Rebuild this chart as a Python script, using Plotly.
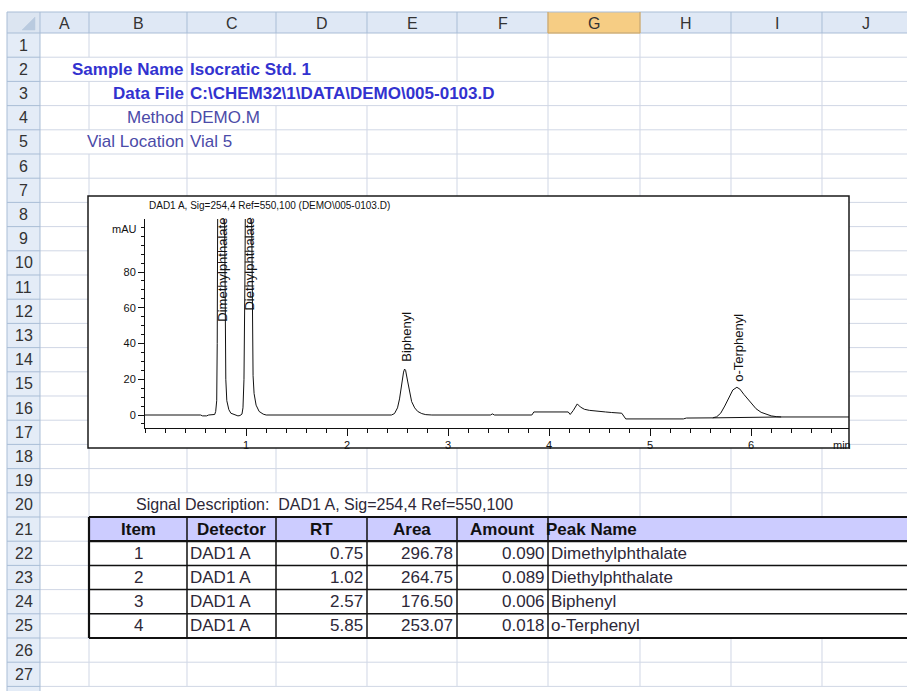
import plotly.graph_objects as go

W, H = 907, 691

# ---------------- data ----------------
col_letters = ["A", "B", "C", "D", "E", "F", "G", "H", "I", "J"]
row_numbers = list(range(1, 28))
info_labels = ["Sample Name", "Data File", "Method", "Vial Location"]
info_values = ["Isocratic Std. 1", r"C:\CHEM32\1\DATA\DEMO\005-0103.D", "DEMO.M", "Vial 5"]
signal_description = "Signal Description:  DAD1 A, Sig=254,4 Ref=550,100"
chart_title = r"DAD1 A, Sig=254,4 Ref=550,100 (DEMO\005-0103.D)"
table_headers = ["Item", "Detector", "RT", "Area", "Amount", "Peak Name"]
item = [1, 2, 3, 4]
detector = ["DAD1 A", "DAD1 A", "DAD1 A", "DAD1 A"]
rt = [0.75, 1.02, 2.57, 5.85]
area = [296.78, 264.75, 176.50, 253.07]
amount = [0.090, 0.089, 0.006, 0.018]
peak_name = ["Dimethylphthalate", "Diethylphthalate", "Biphenyl", "o-Terphenyl"]
label_base_mau = [51.5, 57.6, 29.0, 17.9]

time_min = [
    0.00, 0.55, 0.57, 0.61, 0.63, 0.69, 0.70, 0.71, 0.715, 0.72, 0.75, 0.78, 0.79, 0.80, 0.81, 0.83, 0.85, 0.88,
    0.90, 0.92, 0.94, 0.96, 0.97, 0.98, 0.99, 1.00, 1.02, 1.05, 1.06, 1.07, 1.08, 1.10, 1.13, 1.17, 1.20,
    2.44, 2.47, 2.50, 2.52, 2.54, 2.56, 2.57, 2.58, 2.60, 2.62, 2.64, 2.67, 2.70, 2.74, 2.78, 2.84,
    3.42, 3.44, 3.46, 3.83, 3.85, 4.19, 4.21, 4.24, 4.28, 4.31, 4.35, 4.40, 4.45, 4.50, 4.56, 4.62, 4.69, 4.72, 4.76,
    5.33, 5.36, 5.62, 5.66, 5.70, 5.74, 5.78, 5.82, 5.86, 5.89, 5.93, 5.97, 6.01, 6.05, 6.10, 6.15, 6.20, 6.25, 6.30, 6.97]
signal_mau = [
    0.0, 0.0, -0.5, -0.5, 0.0, 0.3, 2.0, 8.0, 40.0, 120.0, 400.0, 150.0, 60.0, 20.0, 8.0, 3.0, 1.0, 0.2,
    0.0, -0.5, -0.3, 0.5, 4.0, 20.0, 80.0, 200.0, 400.0, 150.0, 50.0, 22.0, 12.0, 5.5, 2.0, 0.5, 0.0,
    0.0, 0.8, 4.0, 9.0, 17.0, 24.0, 25.7, 25.0, 19.0, 12.0, 7.5, 4.0, 2.0, 0.8, 0.2, 0.0,
    0.0, 0.6, 0.0, 0.0, 1.7, 1.7, 0.3, 2.5, 6.2, 4.5, 3.2, 2.6, 2.2, 1.8, 1.7, 1.4, 1.2, 1.0, -2.2,
    -2.2, -1.7, -1.6, -1.0, 1.0, 5.0, 10.0, 14.0, 15.5, 14.5, 11.5, 9.0, 6.0, 3.5, 1.5, 0.3, -0.5, -0.9, -1.1, -1.1]
baseline_t = [5.62, 6.30]
baseline_mau = [-1.6, -1.1]
x_ticks = [1, 2, 3, 4, 5, 6]
y_ticks = [0, 20, 40, 60, 80]

# ---------------- layout geometry (pixels) ----------------
COL_EDGES = [40, 89, 187, 276, 367, 457, 548, 640, 731, 822, 913]
ROW0, ROW_H = 33.0, 24.2
HDR_TOP, HDR_LEFT = 12, 7
BOX = (88, 196, 849, 448)          # chart object box
PLOT_X = (145, 849)                # plot area x pixels
PLOT_Y = (219, 428)                # plot area y pixels (top, bottom)

CELL_FONT = "Liberation Sans, Arial, sans-serif"
CHART_FONT = "Liberation Sans Narrow, Arial Narrow, Liberation Sans, Arial, sans-serif"


def fx(px):
    return px / W


def fy(py):
    return 1 - py / H


def row_top(r):
    return ROW0 + (r - 1) * ROW_H


def row_mid(r):
    return row_top(r) + ROW_H / 2


def seg(x0, y0, x1, y1):
    return f"M{fx(x0):.5f},{fy(y0):.5f} L{fx(x1):.5f},{fy(y1):.5f} "


shapes = []
annotations = []


def rect(x0, y0, x1, y1, fill, line_color=None, lw=0):
    shapes.append(dict(type="rect", xref="paper", yref="paper", layer="below",
                       x0=fx(x0), x1=fx(x1), y0=fy(y1), y1=fy(y0),
                       fillcolor=fill, line=dict(color=line_color or fill, width=lw)))


def path(d, color, lw, fill=None):
    s = dict(type="path", xref="paper", yref="paper", layer="below", path=d,
             line=dict(color=color, width=lw))
    if fill:
        s["fillcolor"] = fill
    shapes.append(s)


def text(x, y, s, xanchor="left", size=17, color="#222222", bold=False, family=CELL_FONT):
    annotations.append(dict(xref="paper", yref="paper", x=fx(x), y=fy(y), text=f"<b>{s}</b>" if bold else s,
                            showarrow=False, xanchor=xanchor, yanchor="middle", borderpad=0,
                            font=dict(family=family, size=size, color=color)))


# ---- hidden vertical gridline segments (text overflow / table) ----
hidden = set()
hidden.add((89, 2)); hidden.add((276, 2))
hidden.update({(276, 3), (367, 3), (457, 3)})
hidden.add((89, 5))
hidden.update({(187, 20), (276, 20), (367, 20), (457, 20)})
for r in range(21, 26):
    for c in COL_EDGES[2:]:
        hidden.add((c, r))

grid = ""
for c in COL_EDGES[1:]:
    for r in row_numbers:
        if (c, r) not in hidden:
            grid += seg(c, row_top(r), c, row_top(r) + ROW_H)
for r in range(1, 28):
    y = row_top(r) + ROW_H
    grid += seg(40, y, W + 5, y)
path(grid, "#D0D7E5", 1)

# ---- headers ----
rect(HDR_LEFT, HDR_TOP, W + 5, ROW0, "#DFE8F5")
rect(548, HDR_TOP, 640, ROW0, "#F6CD84")
rect(HDR_LEFT, ROW0, 40, H + 5, "#E4ECF7")
rect(HDR_LEFT, HDR_TOP, 40, ROW0, "#DCE5F1")
path(f"M{fx(35):.5f},{fy(17):.5f} L{fx(35):.5f},{fy(30):.5f} L{fx(22):.5f},{fy(30):.5f} Z", "#B9CADF", 0.5, "#B9CADF")
hdr = seg(HDR_LEFT, HDR_TOP, W + 5, HDR_TOP) + seg(HDR_LEFT, HDR_TOP, HDR_LEFT, H + 5)
for c in COL_EDGES:
    hdr += seg(c, HDR_TOP, c, ROW0)
hdr += seg(HDR_LEFT, ROW0, W + 5, ROW0)
for r in range(1, 28):
    y = row_top(r) + ROW_H
    hdr += seg(HDR_LEFT, y, 40, y)
hdr += seg(40, ROW0, 40, H + 5)
path(hdr, "#A9BDD6", 1)
path(seg(548, HDR_TOP, 548, ROW0) + seg(640, HDR_TOP, 640, ROW0) + seg(548, ROW0, 640, ROW0), "#E2A84A", 1)

for i, letter in enumerate(col_letters):
    cx = (COL_EDGES[i] + COL_EDGES[i + 1]) / 2
    if letter == "J":
        cx = (822 + 913) / 2 - 2
    text(cx, (HDR_TOP + ROW0) / 2 + 1, letter, "center", 16, "#333333")
for r in row_numbers:
    text(23.5, row_mid(r), str(r), "center", 16, "#333333")

# ---- sample information block ----
info_colors = ["#3232CF", "#3232CF", "#4B4BA8", "#4B4BA8"]
info_bold = [True, True, False, False]
for i in range(4):
    r = i + 2
    text(185, row_mid(r), info_labels[i], "right", 17, info_colors[i], info_bold[i])
    text(189, row_mid(r), info_values[i], "left", 17, info_colors[i], info_bold[i])

# ---- chart object ----
rect(*BOX, "white", "#1a1a1a", 1.5)

# ---- table ----
t_top, t_bot = row_top(21), row_top(26)
rect(89, t_top, W + 5, row_top(22), "#CCCCFF")
inner = ""
for r in (23, 24, 25):
    inner += seg(89, row_top(r), W + 5, row_top(r))
for c in COL_EDGES[2:7]:
    inner += seg(c, t_top, c, t_bot)
path(inner, "#111111", 1.5)
path(seg(89, t_top, W + 5, t_top) + seg(89, t_bot, W + 5, t_bot) + seg(89, t_top, 89, t_bot)
     + seg(89, row_top(22), W + 5, row_top(22)), "#111111", 2.2)

text(135, row_mid(20), signal_description, "left", 16, "#2d2838")
hdr_pos = [(138, "center"), (231.5, "center"), (321.5, "center"), (412, "center"), (502.5, "center"), (545, "left")]
for (hx, anc), h in zip(hdr_pos, table_headers):
    text(hx, row_mid(21), h, anc, 17, "#111111", True)
for i in range(4):
    r = 22 + i
    text(138, row_mid(r), str(item[i]), "center", 17, "#2d2838")
    text(189, row_mid(r), detector[i], "left", 17, "#2d2838")
    text(364, row_mid(r), f"{rt[i]:.2f}", "right", 17, "#2d2838")
    text(454, row_mid(r), f"{area[i]:.2f}", "right", 17, "#2d2838")
    text(546, row_mid(r), f"{amount[i]:.3f}", "right", 17, "#2d2838")
    text(550, row_mid(r), peak_name[i], "left", 17, "#2d2838")

# ---- chart texts ----
text(148, 205, chart_title, "left", 10, "#111111", family=CHART_FONT)
text(138, 229, "mAU", "right", 11, "#111111", family=CHART_FONT)
text(852, 445, "min", "right", 11, "#111111", family=CHART_FONT)

for i in range(4):
    annotations.append(dict(xref="x", yref="y", x=rt[i], y=label_base_mau[i], text=peak_name[i],
                            textangle=-90, showarrow=False, xanchor="center", yanchor="bottom",
                            xshift=2, borderpad=0,
                            font=dict(family=CELL_FONT, size=13, color="#111111")))

fig = go.Figure()
fig.add_trace(go.Scatter(x=time_min, y=signal_mau, mode="lines",
                         line=dict(color="#111111", width=1), hoverinfo="skip", showlegend=False))
fig.add_trace(go.Scatter(x=baseline_t, y=baseline_mau, mode="lines",
                         line=dict(color="#111111", width=1), hoverinfo="skip", showlegend=False))

x_range = [0, (PLOT_X[1] - PLOT_X[0]) / 101.0]
y_px_per = (415 - 272) / 80.0
y_range = [(415 - PLOT_Y[1]) / y_px_per, (415 - PLOT_Y[0]) / y_px_per]

fig.update_layout(
    width=W, height=H, margin=dict(l=0, r=0, t=0, b=0),
    paper_bgcolor="white", plot_bgcolor="rgba(0,0,0,0)",
    shapes=shapes, annotations=annotations, showlegend=False,
    xaxis=dict(domain=[fx(PLOT_X[0]), fx(PLOT_X[1])], range=x_range, showline=True, linecolor="#111111",
               linewidth=1, ticks="outside", ticklen=7, tickcolor="#111111", tickvals=x_ticks,
               tickfont=dict(family=CHART_FONT, size=11, color="#111111"), showgrid=False, zeroline=False,
               minor=dict(dtick=0.2, tick0=0, ticks="outside", ticklen=4, tickcolor="#111111", showgrid=False),
               fixedrange=True),
    yaxis=dict(domain=[fy(PLOT_Y[1]), fy(PLOT_Y[0])], range=y_range, showline=True, linecolor="#111111",
               linewidth=1, ticks="outside", ticklen=6, tickcolor="#111111", tickvals=y_ticks,
               tickfont=dict(family=CHART_FONT, size=11, color="#111111"), showgrid=False, zeroline=False,
               minor=dict(dtick=5, tick0=0, ticks="outside", ticklen=3, tickcolor="#111111", showgrid=False),
               fixedrange=True),
)

fig.write_html("out.html", config={"displayModeBar": False},
               post_script="document.body.style.margin='0px';document.body.style.padding='0px';"
                           "document.body.style.overflow='hidden';")
